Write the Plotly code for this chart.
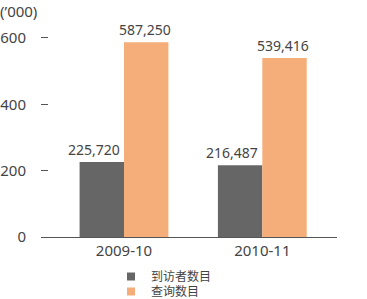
import plotly.graph_objects as go

categories = ["2009-10", "2010-11"]
visitors = [225720, 216487]
enquiries = [587250, 539416]
series_names = ["到访者数目", "查询数目"]
series_colors = ["#666666", "#F5AD7A"]
tick_vals = [0, 200, 400, 600]
tick_text = ["0", "200", "400", "600"]

font_family = "Noto Sans, Noto Sans CJK SC, sans-serif"
text_color = "#444444"

fig = go.Figure()
for vals, name, color in zip([visitors, enquiries], series_names, series_colors):
    fig.add_trace(go.Bar(
        x=categories, y=[v / 1000 for v in vals], name=name,
        marker=dict(color=color, line=dict(width=0)),
        showlegend=False, hoverinfo="x+y",
    ))
# legend entries with small square swatches, one legend box per entry
legend_ids = ["legend", "legend2"]
for name, color, lid in zip(series_names, series_colors, legend_ids):
    fig.add_trace(go.Scatter(
        x=[None], y=[None], mode="markers", name=name, legend=lid,
        marker=dict(symbol="square", size=8, color=color),
    ))

# value labels above bars
annotations = []
for vals, xs in zip([visitors, enquiries], [-30, 21]):
    for cat, v in zip(categories, vals):
        annotations.append(dict(
            x=cat, y=v / 1000, xref="x", yref="y", text=f"{v:,}",
            showarrow=False, xanchor="center", yanchor="bottom",
            xshift=xs, yshift=1,
            font=dict(size=14, color=text_color),
        ))

L, R, T, B = 41, 30, 18, 62
pw = 367 - L - R
ph = 299 - T - B

annotations.append(dict(
    text="(’000)", xref="paper", yref="paper",
    x=-(L + 2) / pw, y=(ph + T + 1) / ph,
    xanchor="left", yanchor="top", showarrow=False,
    font=dict(size=15, color=text_color, family="Noto Sans, sans-serif"),
))


def legend_box(top_px):
    return dict(
        xref="paper", yref="paper",
        x=(111 - L) / pw, y=-(top_px - T - ph) / ph, xanchor="left", yanchor="top",
        orientation="v", font=dict(size=12, color=text_color),
        tracegroupgap=0, bgcolor="rgba(0,0,0,0)", borderwidth=0,
    )


fig.update_layout(
    width=367, height=299,
    margin=dict(l=L, r=R, t=T, b=B, autoexpand=False),
    paper_bgcolor="white", plot_bgcolor="white",
    font=dict(family=font_family, size=14, color=text_color),
    barmode="group", bargap=0.358, bargroupgap=0,
    showlegend=True,
    legend=legend_box(262),
    legend2=legend_box(277),
    xaxis=dict(
        type="category", range=[-0.6, 1.54], tickangle=0,
        showline=True, linecolor="#555555", linewidth=1,
        ticks="", showgrid=False, tickfont=dict(size=15, color=text_color),
    ),
    yaxis=dict(
        range=[0, 660], tickvals=tick_vals, ticktext=tick_text,
        showline=False, showgrid=False, zeroline=False,
        ticks="inside", ticklen=7, tickcolor="#555555", tickwidth=1,
        ticklabelstandoff=14, tickfont=dict(size=15, color=text_color),
    ),
    annotations=annotations,
)

fig.write_html("out.html")
